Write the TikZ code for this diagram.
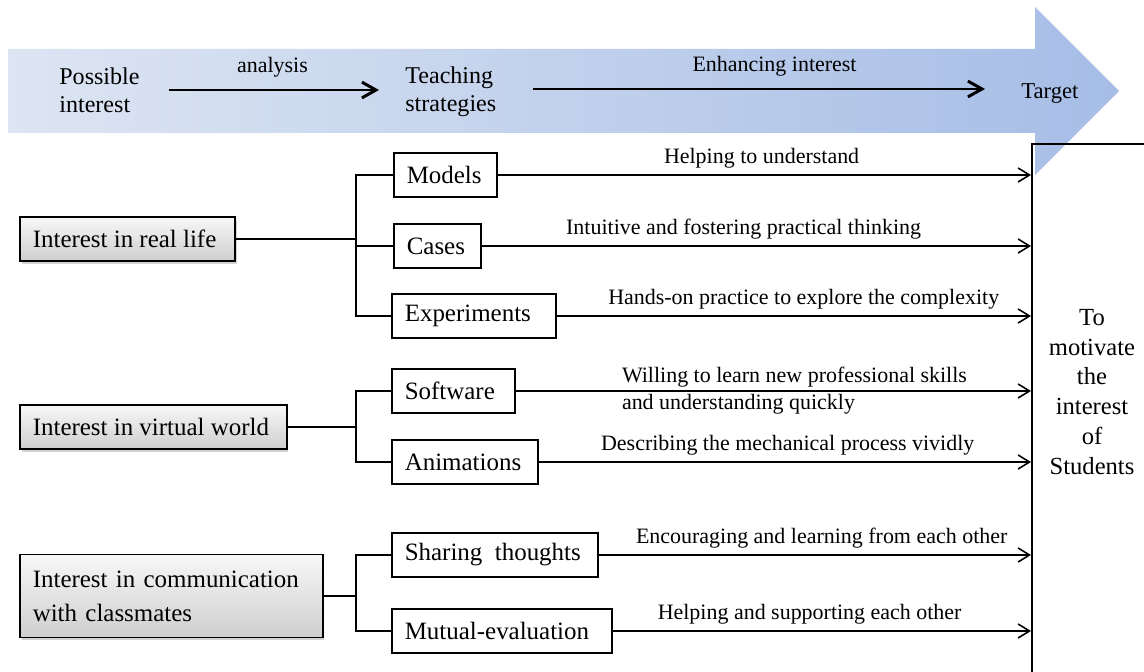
\documentclass[tikz,border=0pt]{standalone}
\usepackage{fontspec}
\setmainfont{Liberation Serif}
\usetikzlibrary{arrows.meta,shadows,positioning}

\definecolor{bandleft}{RGB}{221,229,242}
\definecolor{bandright}{RGB}{166,189,230}

\newcommand\boxfont{\fontsize{14.2pt}{17pt}\selectfont}
\newcommand\labfont{\fontsize{12.5pt}{15.3pt}\selectfont}
\newcommand\bandfont{\fontsize{13.7pt}{15.9pt}\selectfont}
\newcommand\goalfont{\fontsize{14pt}{17pt}\selectfont}
\newcommand\padtext[2]{\makebox[#1][l]{#2}}

\tikzset{
	interest/.style={draw, line width=0.9pt, anchor=west, align=left, inner xsep=0.26cm, minimum height=0.88cm,
		top color=gray!6, bottom color=gray!38,
		drop shadow={shadow xshift=1pt, shadow yshift=-1.5pt, opacity=0.35}, font=\boxfont},
	strategy/.style={draw, line width=0.9pt, anchor=west, inner xsep=0.26cm, minimum height=0.88cm, font=\boxfont},
	stage/.style={inner sep=0pt, align=left, font=\bandfont},
	link/.style={line width=0.9pt},
	effect/.style={line width=0.9pt, -{Straight Barb[length=6.5pt,width=8pt]}},
	flow/.style={line width=1.7pt, -{Straight Barb[length=8pt,width=9pt]}},
	effectlabel/.style={font=\labfont},
}

\begin{document}
\begin{tikzpicture}[x=0.02cm, y=-0.02cm]
		\useasboundingbox (0,0) rectangle (1144,672);
		\clip (0,0) rectangle (1144,672);

		% Banner arrow
		\shade[left color=bandleft, right color=bandright] (8,49) -- (1035,49) -- (1035,7) -- (1119,91)
			-- (1035,175) -- (1035,133) -- (8,133) -- cycle;
		\node[stage, anchor=west] (possible) at (59,90) {Possible\\interest};
		\node[stage, anchor=west] (teaching) at (405,92) {Teaching\\strategies};
		\node[stage, anchor=west, font=\fontsize{12.9pt}{15pt}\selectfont] (target) at (1021,94) {Target};
		\draw[flow, shorten <=0.58cm, shorten >=0.52cm] (possible.east) -- (possible.east -| teaching.west)
			node[midway, above=0.1cm, effectlabel] {analysis};
		\draw[flow, shorten <=0.72cm, shorten >=0.72cm] (teaching.east) ++(0,-3) coordinate (band2) -- (band2 -| target.west)
			node[pos=0.53, above=0.1cm, effectlabel] {Enhancing interest};

		% Define nodes
		\node[interest] (reallife) at (19,239) {\padtext{3.78cm}{Interest in real life}};
		\node[interest] (virtual) at (19,427) {\padtext{4.82cm}{Interest in virtual world}};
		\node[interest, text width=5.54cm, minimum height=1.66cm, font=\fontsize{14.2pt}{19.4pt}\selectfont] (classmates)
			at (19,596) {Interest in communication\\with classmates};

		\node[strategy] (models) at (393,175) {\padtext{1.54cm}{Models}};
		\node[strategy] (cases) at (393,246) {\padtext{1.22cm}{Cases}};
		\node[strategy] (experiments) at (391,316) {\padtext{2.76cm}{Experiments}};
		\node[strategy] (software) at (391,391) {\padtext{1.94cm}{Software}};
		\node[strategy] (animations) at (391,462) {\padtext{2.4cm}{Animations}};
		\node[strategy] (sharing) at (391,555) {\padtext{3.6cm}{Sharing\ \ thoughts}};
		\node[strategy] (mutual) at (391,631) {\padtext{3.88cm}{Mutual-evaluation}};

		\node[draw, line width=0.9pt, anchor=north west, minimum width=3cm, minimum height=11.5cm] (goal) at (1031,143) {};
		\node[align=center, font=\goalfont] (motivate) at (1092,392) {To\\motivate\\the\\interest\\of\\Students};

		% Draw branches
		\coordinate (fork1) at (356,239);
		\coordinate (fork2) at (356,427);
		\coordinate (fork3) at (356,596);
		\draw[link] (reallife) -- (fork1);
		\draw[link] (models.west) -| (fork1) |- (experiments.west);
		\draw[link] (cases.west) -- (cases.west -| fork1);
		\draw[link] (virtual) -- (fork2);
		\draw[link] (software.west) -| (fork2) |- (animations.west);
		\draw[link] (classmates) -- (fork3);
		\draw[link] (sharing.west) -| (fork3) |- (mutual.west);

		% Draw arrows
		\draw[effect] (models) -- (models -| goal.west) node[pos=0.495, above, effectlabel] {Helping to understand};
		\draw[effect] (cases) -- (cases -| goal.west) node[pos=0.477, above, effectlabel] {Intuitive and fostering practical thinking};
		\draw[effect] (experiments) -- (experiments -| goal.west) node[pos=0.521, above, effectlabel] {Hands-on practice to explore the complexity};
		\draw[effect] (software) -- (software -| goal.west) node[pos=0.205, right, inner sep=0pt, align=left, effectlabel]
			{Willing to learn new professional skills\\and understanding quickly};
		\draw[effect] (animations) -- (animations -| goal.west) node[pos=0.506, above, effectlabel] {Describing the mechanical process vividly};
		\draw[effect] (sharing) -- (sharing -| goal.west) node[pos=0.516, above, effectlabel] {Encouraging and learning from each other};
		\draw[effect] (mutual) -- (mutual -| goal.west) node[pos=0.471, above, effectlabel] {Helping and supporting each other};
	\end{tikzpicture}
\end{document}
